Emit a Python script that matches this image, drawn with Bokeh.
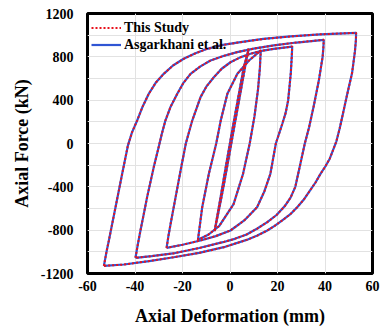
from bokeh.plotting import figure
from bokeh.models import FixedTicker, Legend, LegendItem
from bokeh.embed import file_html
from bokeh.resources import INLINE

# ---- data (deformation mm, force kN) ----
loop1_d = [-6.5, -4.0, -1.5, 1.0, 3.5, 5.8, 7.9, 6.8, 4.5, 2.0, -0.5, -3.0, -5.0, -6.5]
loop1_f = [-809, -500, -180, 130, 430, 704, 874, 760, 480, 180, -130, -430, -650, -809]

loop2_d = [-13.5, -12.6, -11.7, -8.9, -5.8, -3.9, -1.1, 3.1, 8.0, 13.0,
           12.8, 12.6, 11.8, 10.3, 8.3, 5.5, 1.5, -4.5, -9.0, -13.5]
loop2_f = [-889, -740, -588, -280, 0, 212, 459, 643, 766, 860,
           800, 700, 500, 250, 0, -280, -560, -760, -840, -889]

loop3_d = [-26.7, -25.9, -25.0, -22.9, -20.8, -18.6, -15.9, -12.4, -9.8, -6.8, -3.5, 0.2, 4.3, 8.6, 13.3, 18.4, 26.2,
           26.0, 25.6, 24.5, 23.4, 22.0, 19.3, 17.0, 14.5, 11.4, 6.0, 0.2, -6.0, -12.4, -20.0, -26.7]
loop3_f = [-963, -850, -741, -495, -249, 0, 212, 428, 530, 612, 690, 750, 795, 828, 855, 874, 895,
           800, 650, 400, 280, 180, 0, -280, -440, -588, -710, -803, -855, -895, -935, -963]

loop4_d = [-39.8, -38.8, -37.7, -36.3, -34.9, -32.1, -30.0, -28.7, -27.2, -25.0, -22.2, -19.6, -16.6, -12.6,
           -8.2, -2.8, 3.0, 10.0, 18.4, 28.0, 39.5,
           39.3, 39.0, 37.4, 35.3, 33.3, 31.5, 29.5, 27.5, 25.5, 23.0, 19.6, 15.7, 11.5, 7.0, 2.0, -3.0,
           -13.0, -24.0, -33.0, -39.8]
loop4_f = [-1055, -930, -803, -650, -495, -218, -30, 90, 212, 340, 459, 560, 643, 710,
           766, 808, 843, 876, 905, 932, 957,
           880, 800, 581, 350, 150, 0, -200, -400, -500, -580, -660, -726, -785, -840, -880, -911,
           -965, -1015, -1040, -1055]

loop5_d = [-53.1, -52.0, -51.0, -49.6, -48.2, -45.4, -43.0, -41.3, -39.1, -36.8, -34.2, -31.3, -27.9, -24.0,
           -19.5, -14.8, -9.6, -3.0, 4.4, 14.0, 25.5, 38.0, 53.1,
           53.0, 52.6, 51.4, 49.3, 47.3, 46.2, 44.8, 42.0, 40.2, 38.1, 36.0, 33.5, 31.0, 28.3, 25.3, 22.0,
           18.8, 15.7, 11.5, 7.0, -2.6, -13.0, -23.7, -34.0, -44.7, -53.1]
loop5_f = [-1130, -1000, -895, -740, -588, -280, -20, 100, 212, 340, 459, 560, 643, 720,
           782, 830, 874, 910, 935, 965, 988, 1008, 1022,
           950, 850, 650, 450, 250, 140, 20, -140, -210, -280, -360, -440, -520, -588, -655, -710,
           -760, -803, -850, -890, -957, -1010, -1050, -1085, -1117, -1130]

study_xs = [loop1_d, loop2_d, loop3_d, loop4_d, loop5_d]
study_ys = [loop1_f, loop2_f, loop3_f, loop4_f, loop5_f]
asg_xs = [loop1_d, loop2_d, loop3_d, loop4_d, loop5_d]
asg_ys = [loop1_f, loop2_f, loop3_f, loop4_f, loop5_f]

x_ticks = [-60, -40, -20, 0, 20, 40, 60]
y_ticks = [-1200, -800, -400, 0, 400, 800, 1200]
y_grid = [-1200, -1000, -800, -600, -400, -200, 0, 200, 400, 600, 800, 1000, 1200]

FONT = "Liberation Serif"

p = figure(width=380, height=329, x_range=(-60, 60), y_range=(-1200, 1200),
           output_backend="svg", toolbar_location=None,
           min_border_left=87, min_border_right=8, min_border_top=13, min_border_bottom=56)

p.outline_line_color = "black"
p.outline_line_width = 3

p.xaxis.ticker = FixedTicker(ticks=x_ticks)
p.yaxis.ticker = FixedTicker(ticks=y_ticks)
p.xaxis.major_label_overrides = {t: str(t) for t in x_ticks}
p.yaxis.major_label_overrides = {t: str(t) for t in y_ticks}
p.xgrid.ticker = FixedTicker(ticks=x_ticks)
p.ygrid.ticker = FixedTicker(ticks=y_grid)
p.grid.grid_line_color = "#e2e2e2"
p.grid.grid_line_width = 1

for ax in (p.xaxis, p.yaxis):
    ax.axis_line_color = None
    ax.major_tick_line_color = None
    ax.minor_tick_line_color = None
    ax.major_tick_out = 0
    ax.major_label_text_font = FONT
    ax.major_label_text_font_style = "bold"
    ax.major_label_text_font_size = "14px"
    ax.major_label_text_color = "black"
    ax.axis_label_text_font = FONT
    ax.axis_label_text_font_style = "bold"
    ax.axis_label_text_font_size = "18px"
    ax.axis_label_text_color = "black"

p.xaxis.axis_label = "Axial Deformation (mm)"
p.yaxis.axis_label = "Axial Force (kN)"
p.xaxis.major_label_standoff = 7
p.yaxis.major_label_standoff = 14
p.xaxis.axis_label_standoff = 12
p.yaxis.axis_label_standoff = 6

r_asg = p.multi_line(asg_xs, asg_ys, line_color="#2f55d4", line_width=2.2)
r_study = p.multi_line(study_xs, study_ys, line_color="#e8121c", line_width=2, line_dash="2 2")

legend = Legend(items=[LegendItem(label="This Study", renderers=[r_study]),
                       LegendItem(label="Asgarkhani et al.", renderers=[r_asg])],
                location=(4, 220), margin=0, padding=4, spacing=0,
                label_height=17, glyph_height=17, glyph_width=30, label_standoff=3,
                border_line_color=None, background_fill_alpha=0.0,
                label_text_font=FONT, label_text_font_style="bold",
                label_text_font_size="14px", label_text_color="black")
p.add_layout(legend)

open("out.html", "w").write(file_html(p, INLINE))
